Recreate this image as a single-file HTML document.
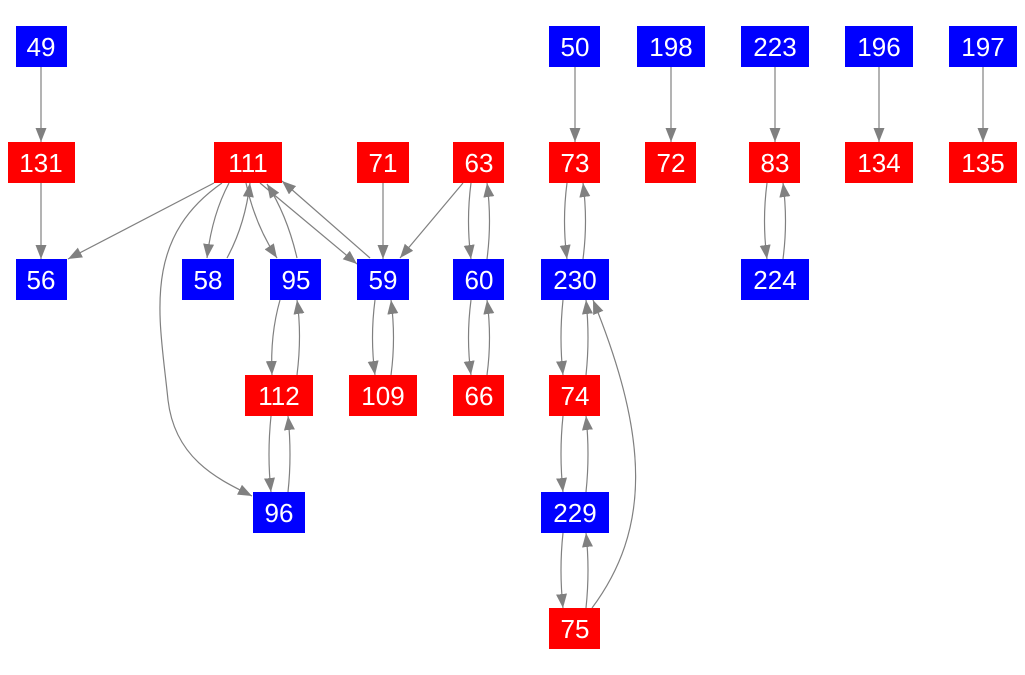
<!DOCTYPE html>
<html><head><meta charset="utf-8"><style>
html,body{margin:0;padding:0;background:#fff;width:1025px;height:675px;overflow:hidden}
text{font-family:"Liberation Sans",Arial,sans-serif;font-size:26px;fill:#fff;text-anchor:middle}
</style></head><body>
<svg width="1025" height="675" viewBox="0 0 1025 675" xmlns="http://www.w3.org/2000/svg">
<defs>
<marker id="a" markerUnits="userSpaceOnUse" markerWidth="16" markerHeight="12" refX="14" refY="5.5" orient="auto">
<path d="M0,0 L14,5.5 L0,11 Z" fill="#808080"/>
</marker>
</defs>
<g fill="none" stroke="#808080" stroke-width="1.2" marker-end="url(#a)">
<path d="M41,67 L41,142"/>
<path d="M41,183 L41,259"/>
<path d="M575,67 L575,142"/>
<path d="M671,67 L671,142"/>
<path d="M775,67 L775,142"/>
<path d="M879,67 L879,142"/>
<path d="M983,67 L983,142"/>
<path d="M383,183 L383,259"/>
<path d="M463,183 L400,258"/>
<path d="M214,183 L68,259"/>
<path d="M229,183 Q212,215 207,258"/>
<path d="M227,258 Q245,225 250,183"/>
<path d="M246,183 Q255,225 277,258"/>
<path d="M297,258 Q287,215 267,184"/>
<path d="M260,183 L357,264"/>
<path d="M370,258 L282,181"/>
<path d="M222,183 C140,240 160,320 168,400 C175,460 220,480 252,496"/>
<path d="M280,300 Q270,335 272,375"/>
<path d="M297,375 Q302,335 297,300"/>
<path d="M271,416 Q267,455 271,492"/>
<path d="M288,492 Q292,455 288,416"/>
<path d="M375,300 Q370,338 375,375"/>
<path d="M391,375 Q396,338 391,300"/>
<path d="M471,183 Q466,221 471,259"/>
<path d="M487,259 Q492,221 487,183"/>
<path d="M471,300 Q466,338 471,375"/>
<path d="M487,375 Q492,338 487,300"/>
<path d="M567,183 Q562,221 567,259"/>
<path d="M583,259 Q588,221 583,183"/>
<path d="M563,300 Q559,338 563,375"/>
<path d="M586,375 Q590,338 586,300"/>
<path d="M563,416 Q559,454 563,492"/>
<path d="M586,492 Q590,454 586,416"/>
<path d="M563,533 Q559,570 563,608"/>
<path d="M586,608 Q590,570 586,533"/>
<path d="M592,608 C650,530 650,440 593,300"/>
<path d="M767,183 Q762,221 767,259"/>
<path d="M783,259 Q788,221 783,183"/>
</g>
<g>
<rect x="16" y="26" width="51" height="41" fill="#0000ff"/><text x="41" y="56">49</text>
<rect x="549" y="26" width="51" height="41" fill="#0000ff"/><text x="575" y="56">50</text>
<rect x="637" y="26" width="68" height="41" fill="#0000ff"/><text x="671" y="56">198</text>
<rect x="741" y="26" width="68" height="41" fill="#0000ff"/><text x="775" y="56">223</text>
<rect x="845" y="26" width="68" height="41" fill="#0000ff"/><text x="879" y="56">196</text>
<rect x="949" y="26" width="68" height="41" fill="#0000ff"/><text x="983" y="56">197</text>

<rect x="8" y="142" width="67" height="41" fill="#ff0000"/><text x="41" y="172">131</text>
<rect x="214" y="142" width="68" height="41" fill="#ff0000"/><text x="248" y="172">111</text>
<rect x="357" y="142" width="52" height="41" fill="#ff0000"/><text x="383" y="172">71</text>
<rect x="453" y="142" width="51" height="41" fill="#ff0000"/><text x="479" y="172">63</text>
<rect x="549" y="142" width="51" height="41" fill="#ff0000"/><text x="575" y="172">73</text>
<rect x="645" y="142" width="51" height="41" fill="#ff0000"/><text x="671" y="172">72</text>
<rect x="749" y="142" width="51" height="41" fill="#ff0000"/><text x="775" y="172">83</text>
<rect x="845" y="142" width="68" height="41" fill="#ff0000"/><text x="879" y="172">134</text>
<rect x="949" y="142" width="68" height="41" fill="#ff0000"/><text x="983" y="172">135</text>

<rect x="16" y="259" width="51" height="41" fill="#0000ff"/><text x="41" y="289">56</text>
<rect x="182" y="259" width="52" height="41" fill="#0000ff"/><text x="208" y="289">58</text>
<rect x="270" y="259" width="51" height="41" fill="#0000ff"/><text x="296" y="289">95</text>
<rect x="357" y="259" width="52" height="41" fill="#0000ff"/><text x="383" y="289">59</text>
<rect x="453" y="259" width="51" height="41" fill="#0000ff"/><text x="479" y="289">60</text>
<rect x="541" y="259" width="68" height="41" fill="#0000ff"/><text x="575" y="289">230</text>
<rect x="741" y="259" width="68" height="41" fill="#0000ff"/><text x="775" y="289">224</text>

<rect x="245" y="375" width="68" height="41" fill="#ff0000"/><text x="279" y="405">112</text>
<rect x="349" y="375" width="68" height="41" fill="#ff0000"/><text x="383" y="405">109</text>
<rect x="453" y="375" width="51" height="41" fill="#ff0000"/><text x="479" y="405">66</text>
<rect x="549" y="375" width="51" height="41" fill="#ff0000"/><text x="575" y="405">74</text>

<rect x="253" y="492" width="52" height="41" fill="#0000ff"/><text x="279" y="522">96</text>
<rect x="541" y="492" width="68" height="41" fill="#0000ff"/><text x="575" y="522">229</text>

<rect x="549" y="608" width="51" height="41" fill="#ff0000"/><text x="575" y="638">75</text>
</g>
</svg>
</body></html>
